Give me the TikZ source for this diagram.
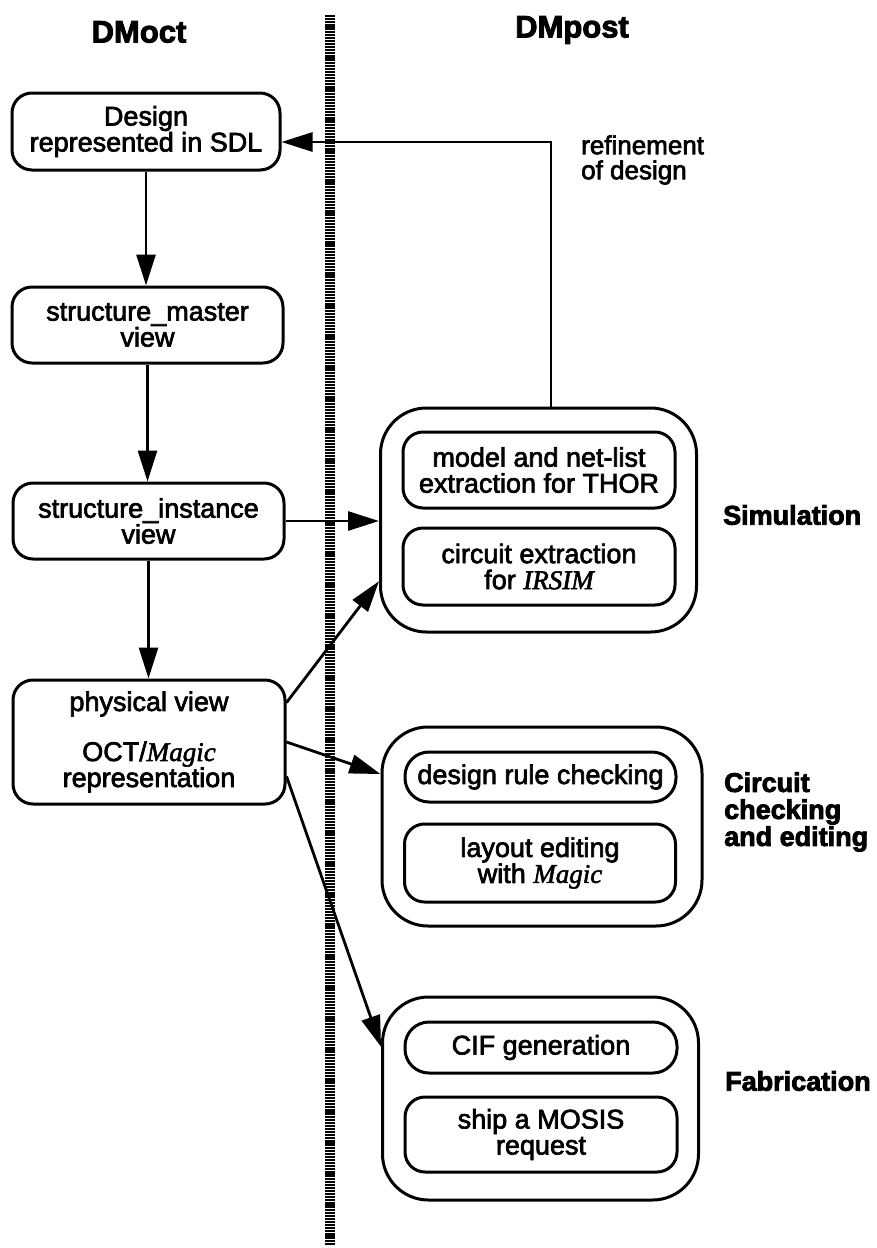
\documentclass[tikz,border=0pt]{standalone}
\usepackage{fontspec}
\usetikzlibrary{arrows.meta}
\newfontfamily\bodyfont{Liberation Sans}[FakeBold=2.5]
\newfontfamily\headfont{Liberation Sans}[FakeBold=3]
\newfontfamily\serifit{Liberation Serif}[FakeBold=2]
\newcommand\toolname[1]{{\serifit\itshape #1}}
\begin{document}
\begin{tikzpicture}[x=1pt,y=-1pt,
  txt/.style={font=\bodyfont\fontsize{27pt}{26pt}\selectfont},
  box/.style={txt, draw, line width=3pt, rounded corners=20pt, align=center,
    inner sep=0pt, minimum width=271pt, minimum height=76pt},
  pill/.style={box, rounded corners=24pt, minimum height=50pt},
  group/.style={draw, line width=3pt, rounded corners=46pt, inner sep=0pt,
    minimum width=316pt},
  head/.style={font=\headfont\bfseries\fontsize{31pt}{31pt}\selectfont},
  grouplabel/.style={font=\headfont\bfseries\fontsize{27pt}{27pt}\selectfont,
    anchor=west, align=left, inner sep=0pt},
  arr/.style={line width=2.8pt, -{Triangle[length=31pt,width=19pt]}},
  divider/.style={line width=10pt, dash pattern=on 2.2pt off 0.9pt}
]
\useasboundingbox (0,0) rectangle (877,1248);

% column titles and separating rule
\node[head] (toct) at (139,32) {DMoct};
\node[head] (tpost) at (572,30) {DMpost};
\coordinate (divtop) at (330,15);
\coordinate (divbot) at (330,1245);
\draw[divider] (divtop) -- (divbot);

% DMoct views
\node[box, minimum width=268pt, minimum height=77pt] (d1) at (146,131.5) {Design\\represented in SDL};
\node[box] (d2) at (147.5,325) {structure\_master\\view};
\node[box] (d3) at (148.5,521) {structure\_instance\\view};
\node[box, minimum width=272pt, minimum height=124pt] (d4) at (149,742)
  {physical view\\[24pt]OCT/\toolname{Magic}\\representation};

% simulation group
\node[group, minimum height=224pt] (sim) at (538.5,520) {};
\node[box, minimum width=272pt] (thor) at (539,470) {model and net-list\\extraction for THOR};
\node[box, minimum width=272pt, minimum height=77pt] (irsim) at (539,566.5) {circuit extraction\\for \toolname{IRSIM}};
\node[grouplabel] (lsim) at (723,515) {Simulation};

% circuit checking and editing group
\node[group, minimum width=320pt, minimum height=199pt] (chk) at (542,826.5) {};
\node[pill] (drc) at (540.5,777) {design rule checking};
\node[box, minimum height=78pt] (edit) at (540,863) {layout editing\\with \toolname{Magic}};
\node[grouplabel] (lchk) at (724,812) {Circuit\\checking\\and editing};

% fabrication group
\node[group, minimum height=203pt] (fab) at (540.5,1098.5) {};
\node[pill, minimum width=272pt, minimum height=51pt] (cif) at (541,1047.5) {CIF generation};
\node[box, minimum width=272pt, minimum height=75pt] (ship) at (541,1134.5) {ship a MOSIS\\request};
\node[grouplabel] (lfab) at (725,1081) {Fabrication};

% feedback label
\node[anchor=west, align=left, inner sep=0pt,
  font=\bodyfont\fontsize{26pt}{25pt}\selectfont] (lref) at (581,160) {refinement\\of design};

% connectors
\draw[arr] (d1.south) -- (d1.south |- d2.north);
\draw[arr] (d2.south) -- (d2.south |- d3.north);
\draw[arr] (d3.south) -- (d3.south |- d4.north);
\draw[arr] (d3.east) -- (d3.east -| sim.west);
\draw[arr] (d4.16) -- (sim.201.5);
\draw[arr] (d4.east) -- (chk.162);
\draw[arr] (d4.-14.4) -- (fab.162);
\coordinate (fbcorner) at (551,142);
\draw[arr] (sim.north -| fbcorner) -- (fbcorner) -- (fbcorner -| d1.east);
\end{tikzpicture}
\end{document}
